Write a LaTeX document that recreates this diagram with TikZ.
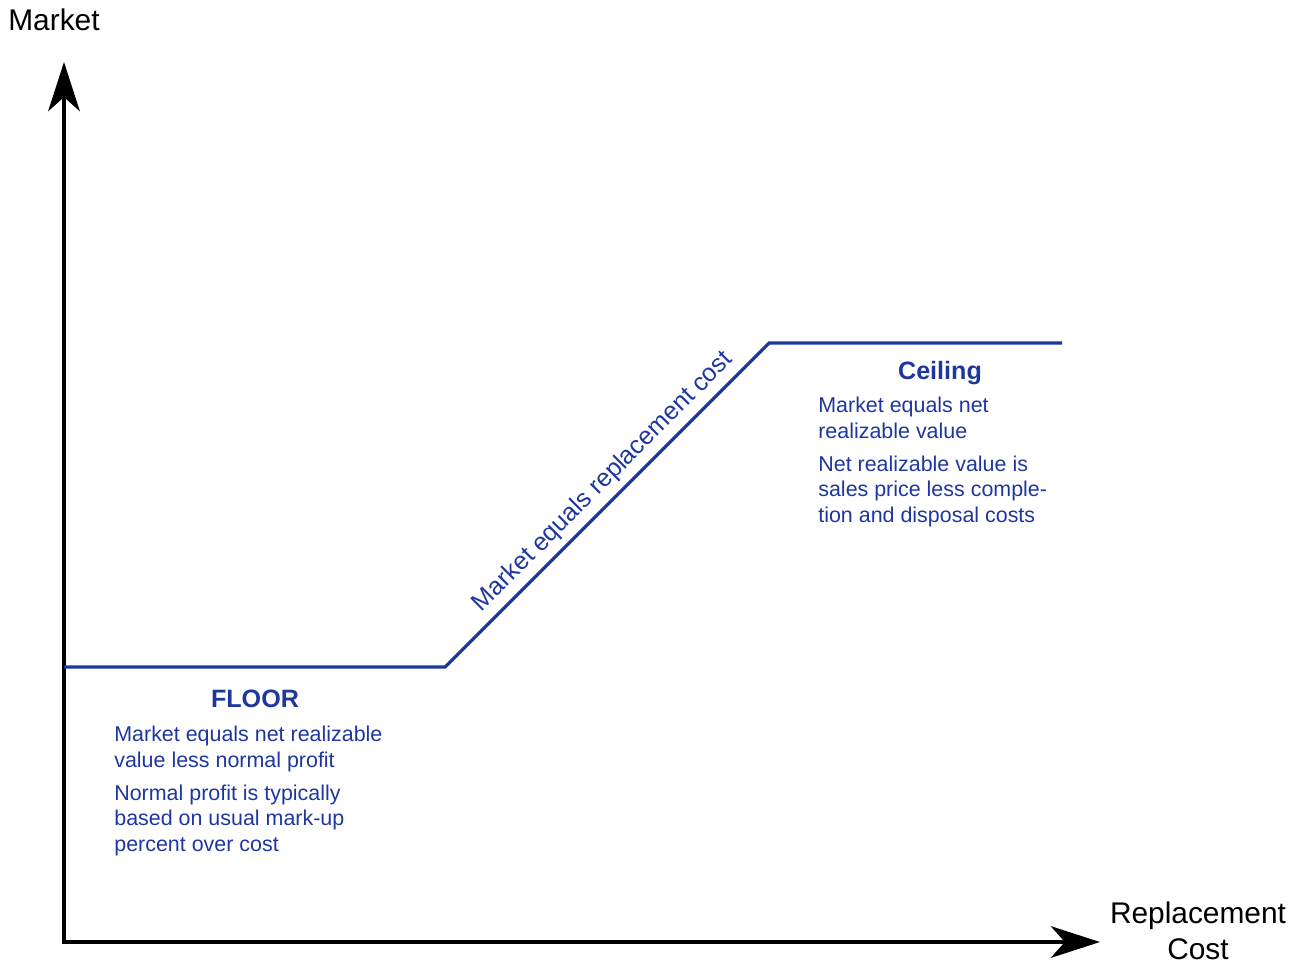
\documentclass[tikz,border=0pt]{standalone}
\usepackage{fontspec}
\setmainfont{Liberation Sans}
\usetikzlibrary{arrows.meta}
\definecolor{lcmblue}{RGB}{30,55,160}

\begin{document}
\begin{tikzpicture}[
  x=0.02cm,
  y=-0.02cm,
  axis/.style={
    line width=2.2pt,
    {Stealth[length=28pt,width=18pt,inset=8pt]}-{Stealth[length=28pt,width=18pt,inset=8pt]},
  },
  limitline/.style={draw=lcmblue, line width=1.8pt},
  axislabel/.style={font=\fontsize{17}{20.5}\selectfont, inner sep=0pt, align=center},
  heading/.style={font=\fontsize{14.3}{17}\selectfont\bfseries, text=lcmblue, inner sep=0pt, anchor=base},
  note/.style={font=\fontsize{12.2}{14.45}\selectfont, text=lcmblue, align=left, inner sep=0pt, anchor=north west},
]
\useasboundingbox (0,0) rectangle (1305,968);
% axes
\coordinate (O) at (64,942);
\coordinate (ytip) at (64,62);
\coordinate (xtip) at (1100,942);
\draw[axis] (ytip) -- (O) -- (xtip);
\node[axislabel, anchor=base] (ylabel) at (54,30) {Market};
\node[axislabel, anchor=north] (xlabel) at (1198,901) {Replacement\\Cost};
% lower of cost or market line
\coordinate (fa) at (64,667);
\coordinate (fb) at (445,667);
\coordinate (cb) at (769,343);
\coordinate (ce) at (1062,343);
\draw[limitline] (fa) -- (fb)
  -- node[sloped, above, pos=0.53, font=\fontsize{14.3}{17}\selectfont, text=lcmblue] (slopetext) {Market equals replacement cost} (cb)
  -- (ce);
% floor
\node[heading] (floorhead) at (255,707) {FLOOR};
\node[note] (floornote) at (114,726) {Market equals net realizable\\value less normal profit\\[4.5pt]Normal profit is typically\\based on usual mark-up\\percent over cost};
% ceiling
\node[heading] (ceilhead) at (940,379) {Ceiling};
\node[note] (ceilnote) at (818,397) {Market equals net\\realizable value\\[4.5pt]Net realizable value is\\sales price less comple-\\tion and disposal costs};
\end{tikzpicture}
\end{document}
